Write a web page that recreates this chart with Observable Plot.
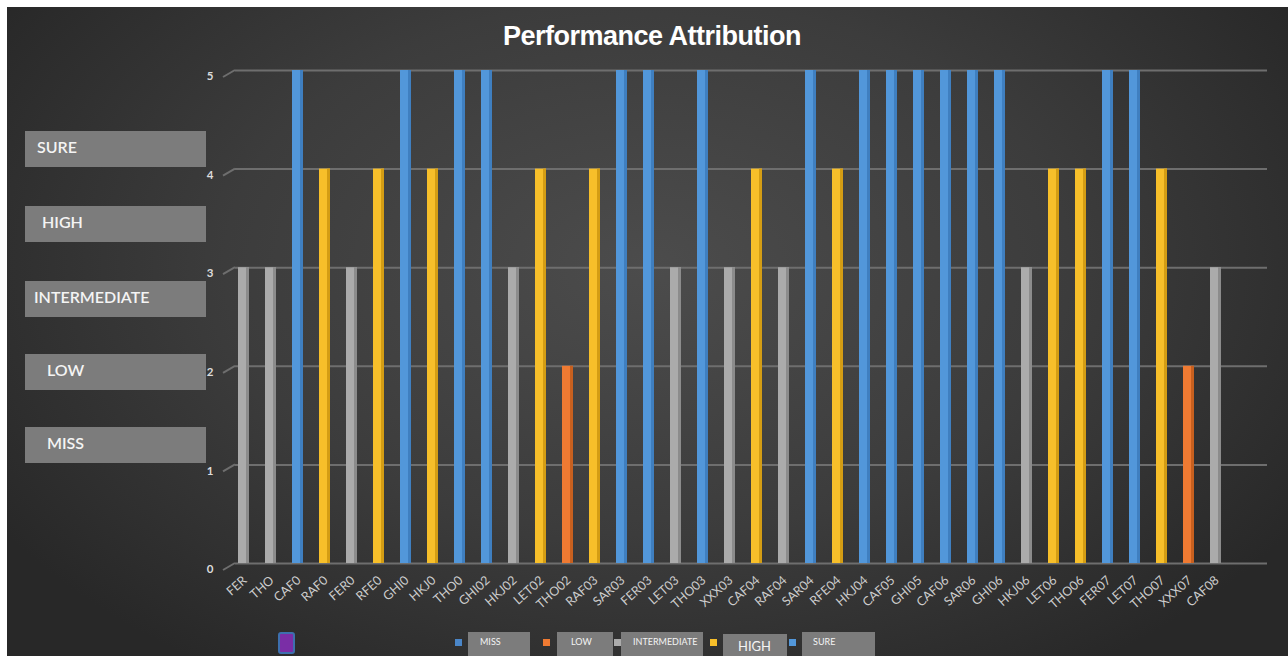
<!DOCTYPE html>
<html>
<head>
<meta charset="utf-8">
<script src="https://cdn.jsdelivr.net/npm/d3@7"></script>
<script src="https://cdn.jsdelivr.net/npm/@observablehq/plot@0.6"></script>
<style>
  html, body { margin: 0; padding: 0; background: #ffffff; }
  #wrap {
    position: absolute; left: 7px; top: 7px; width: 1281px; height: 649px; overflow: hidden;
    background: radial-gradient(ellipse 60% 75% at 50% 40%, #4c4c4c 0%, #3c3c3c 55%, #282828 100%);
    font-family: Lato, "Open Sans", sans-serif;
  }
  #title {
    position: absolute; left: 0; width: 1290px; top: 14px; text-align: center;
    font-family: "Liberation Sans", Arial, sans-serif; font-weight: bold; font-size: 27px;
    color: #ffffff; letter-spacing: -0.5px;
  }
  #chart { position: absolute; left: 0; top: 0; }
  .box {
    position: absolute; background: #7c7c7c; color: #f4f4f4; box-sizing: border-box;
  }
  .side { left: 18px; width: 181px; height: 36px; font-size: 16px; line-height: 32px; font-weight: 600; }
  .leg { height: 24px; font-size: 9px; line-height: 20px; }
  .sw { position: absolute; width: 7px; height: 7px; }
  #purple {
    position: absolute; left: 271px; top: 625px; width: 13px; height: 18px;
    background: #7a2ea6; border: 2px solid #3d6fae; border-radius: 3px;
  }
</style>
</head>
<body>
<div id="wrap">
  <div id="chart"></div>
  <div id="title">Performance Attribution</div>
  <div id="side"></div>
  <div id="purple"></div>
  <div id="legend"></div>
</div>
<script>
const categories = ["FER","THO","CAF0","RAF0","FER0","RFE0","GHI0","HKJ0","THO0","GHI02","HKJ02","LET02","THO02","RAF03","SAR03","FER03","LET03","THO03","XXX03","CAF04","RAF04","SAR04","RFE04","HKJ04","CAF05","GHI05","CAF06","SAR06","GHI06","HKJ06","LET06","THO06","FER07","LET07","THO07","XXX07","CAF08"];
const values = [3,3,5,4,3,4,5,4,5,5,3,4,2,4,5,5,3,5,3,4,3,5,4,5,5,5,5,5,5,3,4,4,5,5,4,2,3];
const levelNames = ["MISS","LOW","INTERMEDIATE","HIGH","SURE"];   // value 1..5
const levelColors = ["#4a86c8","#ef7a32","#ababab","#f7bf2a","#5297da"];
const shadeColors = ["#3a6ea6","#c8601f","#8c8c8c","#d49d14","#3f7fc0"];
const yTicks = [0,1,2,3,4,5];
const sideLabels = ["SURE","HIGH","INTERMEDIATE","LOW","MISS"];
const legendLabels = ["MISS","LOW","INTERMEDIATE","HIGH","SURE"];

const data = categories.map((c, i) => ({cat: c, value: values[i], level: levelNames[values[i]-1]}));

const chart = Plot.plot({
  width: 1281, height: 649,
  marginLeft: 228, marginRight: 21, marginTop: 63, marginBottom: 93,
  style: {background: "transparent", color: "#cfcfcf", fontFamily: "Lato, 'Open Sans', sans-serif"},
  x: {type: "band", domain: categories, range: [221.5, 1224.2], paddingInner: 0.6, paddingOuter: 0.3, label: null},
  y: {domain: [0, 5], label: null, ticks: yTicks},
  color: {domain: levelNames, range: levelColors},
  marks: [
    Plot.ruleY(yTicks, {stroke: "#6e6e6e", strokeWidth: 2}),
    Plot.barY(data, {x: "cat", y: "value", fill: "level"}),
    Plot.barY(data, {x: "cat", y: "value", fill: d => shadeColors[d.value-1], insetLeft: 8}),
    Plot.axisY({ticks: yTicks, tickFormat: "d", tickSize: 0, tickPadding: 22, dy: 6, fontSize: 11.5, fontWeight: "bold", fill: "#dcdcdc"}),
    Plot.axisX({tickSize: 0, tickPadding: 15, tickRotate: -42, dx: 1, fontSize: 12.5, fill: "#cdcdcd"})
  ]
});
document.getElementById("chart").appendChild(chart);

// diagonal "3D" connectors from tick labels to gridlines, placed with the y scale
const yS = chart.scale("y");
const svg = d3.select(chart);
const left = 228;
svg.append("g").selectAll("line").data(yTicks).join("line")
  .attr("x1", left - 12).attr("y1", d => yS.apply(d) + 7)
  .attr("x2", left).attr("y2", d => yS.apply(d))
  .attr("stroke", "#6e6e6e").attr("stroke-width", 2);

// left side boxes
const sideTops = [124, 199, 274, 347, 420];
const sideIndent = [12, 17, 9, 22, 22];
const side = document.getElementById("side");
sideLabels.forEach((t, i) => {
  const d = document.createElement("div");
  d.className = "box side";
  d.style.top = sideTops[i] + "px";
  d.style.paddingLeft = sideIndent[i] + "px";
  d.textContent = t;
  side.appendChild(d);
});

// bottom legend
const legX = [461, 550, 614, 716, 795];
const legW = [62, 56, 82, 64, 73];
const legSw = [448, 536, 607, 703, 782];
const legPad = [12, 14, 12, 15, 11];
const legend = document.getElementById("legend");
legendLabels.forEach((t, i) => {
  const sw = document.createElement("div");
  sw.className = "sw";
  sw.style.left = legSw[i] + "px"; sw.style.top = "632px";
  sw.style.background = levelColors[levelNames.indexOf(t)];
  legend.appendChild(sw);
  const b = document.createElement("div");
  b.className = "box leg";
  b.style.left = legX[i] + "px"; b.style.width = legW[i] + "px";
  b.style.paddingLeft = legPad[i] + "px";
  if (t === "HIGH") { b.style.top = "627px"; b.style.fontSize = "13px"; b.style.lineHeight = "24px"; }
  else { b.style.top = "625px"; }
  b.textContent = t;
  legend.appendChild(b);
});
</script>
</body>
</html>
